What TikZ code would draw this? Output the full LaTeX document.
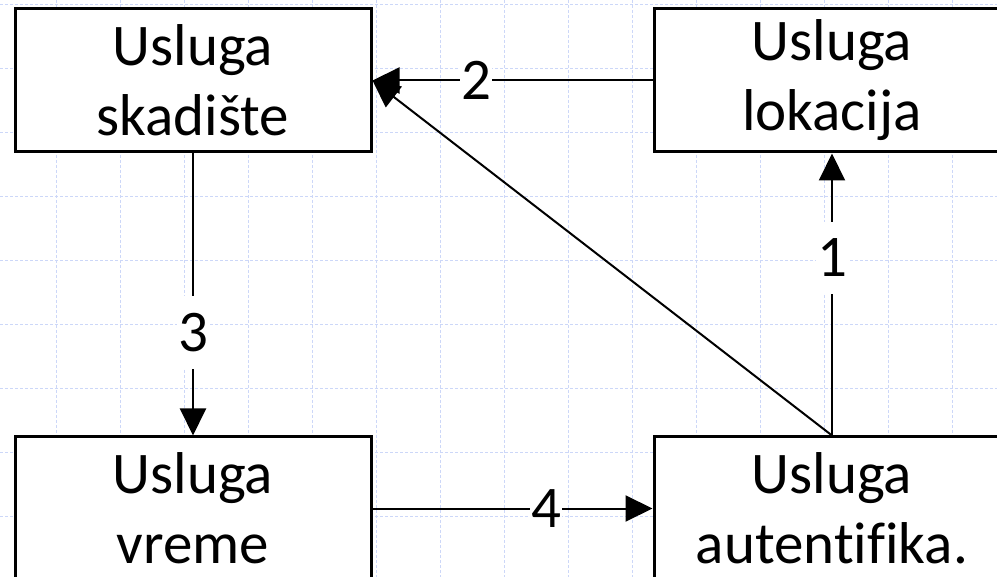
\documentclass[tikz,border=0pt]{standalone}
\usepackage{fontspec}
\setmainfont[Ligatures={NoCommon,NoContextual}]{Carlito}
\usetikzlibrary{arrows.meta}
\definecolor{gridblue}{RGB}{204,215,248}
\tikzset{
  gridline/.style={draw=gridblue, line width=0.8pt, dash pattern=on 3pt off 2pt},
  svc/.style={draw=black, fill=white, line width=3pt, minimum width=356pt, minimum height=143pt,
              inner sep=0pt, align=center, font=\fontsize{59}{70}\selectfont},
  conn/.style={draw=black, line width=2pt, -{Triangle[length=27pt, width=26pt]}},
  lbl/.style={fill=white, inner xsep=1pt, inner ysep=17pt, font=\fontsize{59}{70}\selectfont}
}
\begin{document}
\begin{tikzpicture}[x=1pt, y=-1pt]
\clip (0,0) rectangle (997,577);
\fill[white] (0,0) rectangle (997,577);
\foreach \i in {0,...,16} {
  \draw[gridline] ({-8+64*\i},0) -- ({-8+64*\i},577);
}
\foreach \j in {0,...,9} {
  \draw[gridline] (0,{4+64*\j}) -- (997,{4+64*\j});
}
\node[svc] (skad) at (193,80.5) {Usluga\\skadište};
\node[svc] (lok) at (832,80.5) {Usluga\\lokacija};
\node[svc] (vreme) at (193,508.5) {Usluga\\vreme};
\node[svc] (auth) at (832,508.5) {Usluga\\autentifika.};
\draw[conn] (lok.west) -- node[lbl, pos=0.63] (l2) {2} (skad.east);
\draw[conn] (auth.north) -- (skad.east);
\draw[conn] (auth.north) -- node[lbl, pos=0.63] (l1) {1} (lok.south);
\draw[conn] (skad.south) -- node[lbl, pos=0.635] (l3) {3} (vreme.north);
\draw[conn] (vreme.east) -- node[lbl, pos=0.62] (l4) {4} (auth.west);
\end{tikzpicture}
\end{document}
